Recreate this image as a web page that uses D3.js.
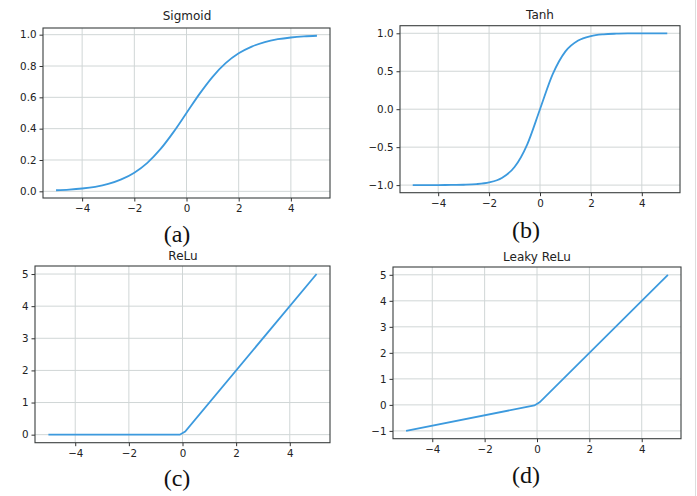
<!DOCTYPE html>
<html><head><meta charset="utf-8">
<script src="https://cdn.jsdelivr.net/npm/d3@7"></script>
<style>body{margin:0;background:#fff}svg{display:block}</style>
</head><body>
<svg id="c" width="697" height="496"></svg>
<script>
// ---- data ----
const xs = [-5,-4.5,-4,-3.5,-3,-2.5,-2,-1.5,-1,-0.5,0,0.5,1,1.5,2,2.5,3,3.5,4,4.5,5];
const sigmoidY = [0.007,0.011,0.018,0.029,0.047,0.076,0.119,0.182,0.269,0.378,0.5,0.622,0.731,0.818,0.881,0.924,0.953,0.971,0.982,0.989,0.993];
const tanhY = [-1.0,-1.0,-0.999,-0.998,-0.995,-0.987,-0.964,-0.905,-0.762,-0.462,0,0.462,0.762,0.905,0.964,0.987,0.995,0.998,0.999,1.0,1.0];
const reluX = [-5,-0.1,0.1,5];
const reluY = [0,0,0.1,5];
const leakyX = [-5,-0.1,0.1,5];
const leakyY = [-1,-0.02,0.1,5];
const xTicks = [-4,-2,0,2,4];
const sigmoidTicks = [0.0,0.2,0.4,0.6,0.8,1.0];
const tanhTicks = [-1.0,-0.5,0.0,0.5,1.0];
const reluTicks = [0,1,2,3,4,5];
const leakyTicks = [-1,0,1,2,3,4,5];
const titles = ["Sigmoid","Tanh","ReLu","Leaky ReLu"];
const captions = ["(a)","(b)","(c)","(d)"];

const panels = [
  {x:xs, y:sigmoidY, yt:sigmoidTicks, yd:[-0.0426,1.0426], fmt:d3.format(".1f"), box:[43,330,28,198], curve:d3.curveMonotoneX, title:[187,20], cap:[177,242]},
  {x:xs, y:tanhY, yt:tanhTicks, yd:[-1.1,1.1], fmt:d3.format(".1f"), box:[400,680,25.7,192.7], curve:d3.curveMonotoneX, title:[540,19], cap:[526,238]},
  {x:reluX, y:reluY, yt:reluTicks, yd:[-0.25,5.25], fmt:d3.format("d"), box:[35,330,266,442.7], curve:d3.curveLinear, title:[183,260], cap:[177,486]},
  {x:leakyX, y:leakyY, yt:leakyTicks, yd:[-1.3,5.3], fmt:d3.format("d"), box:[393,681,267,438.7], curve:d3.curveLinear, title:[537,261], cap:[526,483]}
];

const svg = d3.select("#c");
// faint scan border at right edge
svg.append("line").attr("x1",695.5).attr("x2",695.5).attr("y1",0).attr("y2",496).attr("stroke","#ddd").attr("stroke-width",1);

const minus = s => s.replace("-", "\u2212");

panels.forEach((p,i) => {
  const [l,r,t,b] = p.box;
  const x = d3.scaleLinear().domain([-5.5,5.5]).range([l,r]);
  const y = d3.scaleLinear().domain(p.yd).range([b,t]);
  const g = svg.append("g");
  // grid
  g.selectAll(".gx").data(xTicks).join("line")
    .attr("x1",d=>x(d)).attr("x2",d=>x(d)).attr("y1",t).attr("y2",b)
    .attr("stroke","#d0d6d6").attr("stroke-width",1);
  g.selectAll(".gy").data(p.yt).join("line")
    .attr("class","gy")
    .attr("x1",l).attr("x2",r).attr("y1",d=>y(d)).attr("y2",d=>y(d))
    .attr("stroke","#d0d6d6").attr("stroke-width",1);
  // line
  const pts = p.x.map((v,k)=>[v,p.y[k]]);
  g.append("path").datum(pts)
    .attr("d", d3.line().x(d=>x(d[0])).y(d=>y(d[1])).curve(p.curve))
    .attr("fill","none").attr("stroke","#3c9ade").attr("stroke-width",1.8);
  // axes
  const ax = g.append("g").attr("transform",`translate(0,${b})`)
    .call(d3.axisBottom(x).tickValues(xTicks).tickSize(3.5).tickPadding(3).tickFormat(d=>minus(String(d))));
  const ay = g.append("g").attr("transform",`translate(${l},0)`)
    .call(d3.axisLeft(y).tickValues(p.yt).tickSize(3.5).tickPadding(3).tickFormat(d=>minus(p.fmt(d))));
  [ax,ay].forEach(a=>{
    a.select(".domain").remove();
    a.selectAll(".tick line").attr("stroke","#333");
    a.selectAll("text").attr("fill","#222").style("font-family","DejaVu Sans").style("font-size","10.3px");
  });
  // frame
  g.append("rect").attr("x",l).attr("y",t).attr("width",r-l).attr("height",b-t)
    .attr("fill","none").attr("stroke","#3a3f3f").attr("stroke-width",1.1);
  // title
  g.append("text").attr("x",p.title[0]).attr("y",p.title[1]).attr("text-anchor","middle")
    .style("font-family","DejaVu Sans").style("font-size","12px").attr("fill","#222").text(titles[i]);
  // caption
  g.append("text").attr("x",p.cap[0]).attr("y",p.cap[1]).attr("text-anchor","middle")
    .style("font-family","Liberation Serif").style("font-size","24px").attr("fill","#111").text(captions[i]);
});
</script>
</body></html>
